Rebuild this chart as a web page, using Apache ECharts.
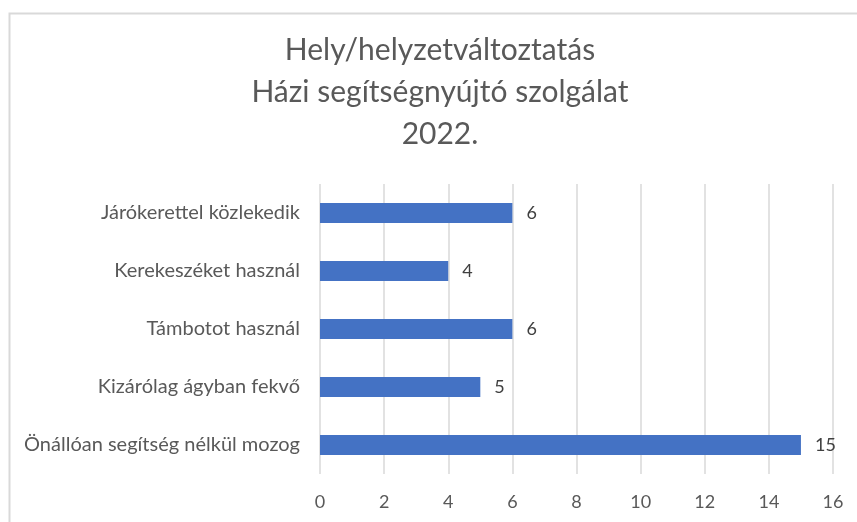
<!DOCTYPE html>
<html>
<head>
<meta charset="utf-8">
<script src="https://cdn.jsdelivr.net/npm/echarts@6/dist/echarts.min.js"></script>
<style>
  html, body { margin: 0; padding: 0; background: #fff; }
  #chart { width: 857px; height: 522px; }
</style>
</head>
<body>
<div id="chart"></div>
<script>
// categories from top to bottom
var categories = [
    'Járókerettel közlekedik',
    'Kerekeszéket használ',
    'Támbotot használ',
    'Kizárólag ágyban fekvő',
    'Önállóan segítség nélkül mozog'
];
var values = [6, 4, 6, 5, 15];
var titleLines = ['Hely/helyzetváltoztatás', 'Házi segítségnyújtó szolgálat', '2022.'];

var FONT = 'Lato, "Open Sans", sans-serif';
var chart = echarts.init(document.getElementById('chart'));

var option = {
    backgroundColor: '#fff',
    animation: false,
    graphic: [
        {
            type: 'rect',
            shape: { x: 9.5, y: 13.5, width: 900, height: 600 },
            style: { fill: 'none', stroke: '#d9d9d9', lineWidth: 2 },
            silent: true
        },
        {
            type: 'text',
            x: 440, y: 29,
            style: {
                text: titleLines.join('\n'),
                font: '30px ' + FONT,
                fill: '#595959',
                align: 'center',
                verticalAlign: 'top',
                lineHeight: 42
            }
        }
    ],
    grid: { left: 320, right: 24, top: 184, bottom: 48 },
    xAxis: {
        type: 'value',
        min: 0, max: 16, interval: 2,
        axisLine: { show: false },
        axisTick: { show: false },
        axisLabel: { color: '#595959', fontSize: 18, fontFamily: FONT, margin: 19 },
        splitLine: { lineStyle: { color: '#d9d9d9', width: 1.5 } }
    },
    yAxis: {
        type: 'category',
        inverse: true,
        data: categories,
        axisLine: { show: false },
        axisTick: { show: false },
        axisLabel: { color: '#595959', fontSize: 20, fontFamily: FONT, margin: 20 }
    },
    series: [{
        type: 'bar',
        data: values,
        barWidth: 20,
        itemStyle: { color: '#4472c4' },
        label: {
            show: true,
            position: 'right',
            distance: 14,
            color: '#404040',
            fontSize: 18,
            fontFamily: FONT
        }
    }]
};
chart.setOption(option);
</script>
</body>
</html>
